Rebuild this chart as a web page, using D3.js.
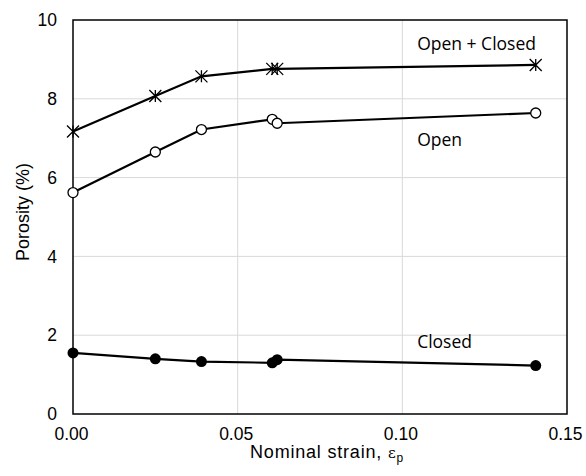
<!DOCTYPE html>
<html><head><meta charset="utf-8">
<script src="https://cdn.jsdelivr.net/npm/d3@7"></script>
<style>body{margin:0;background:#fff}svg{display:block}</style>
</head><body>
<script>
const strain = [0, 0.025, 0.039, 0.0605, 0.062, 0.1405];
const openClosed = [7.17, 8.07, 8.57, 8.76, 8.76, 8.86];
const openPor = [5.62, 6.65, 7.22, 7.48, 7.38, 7.64];
const closedPor = [1.55, 1.40, 1.33, 1.30, 1.38, 1.23];
const xTicks = [0, 0.05, 0.10, 0.15];
const yTicks = [0, 2, 4, 6, 8, 10];
const seriesLabels = ["Open + Closed", "Open", "Closed"];

const W = 586, H = 476;
const m = {l: 73, r: 19, t: 20, b: 62};
const svg = d3.select("body").append("svg").attr("width", W).attr("height", H);
const x = d3.scaleLinear().domain([0, 0.15]).range([m.l, W - m.r]);
const y = d3.scaleLinear().domain([0, 10]).range([H - m.b, m.t]);

// grid
svg.append("g").selectAll("line").data(yTicks.slice(1, -1)).join("line")
  .attr("x1", m.l).attr("x2", W - m.r).attr("y1", d => y(d)).attr("y2", d => y(d))
  .attr("stroke", "#d9d9d9").attr("stroke-width", 1);
svg.append("g").selectAll("line").data(xTicks.slice(1, -1)).join("line")
  .attr("y1", m.t).attr("y2", H - m.b).attr("x1", d => x(d)).attr("x2", d => x(d))
  .attr("stroke", "#d9d9d9").attr("stroke-width", 1);

// axes
const xa = svg.append("g").attr("transform", `translate(0,${H - m.b})`)
  .call(d3.axisBottom(x).tickValues(xTicks).tickFormat(d3.format(".2f")).tickSize(0).tickPadding(14));
const ya = svg.append("g").attr("transform", `translate(${m.l},0)`)
  .call(d3.axisLeft(y).tickValues(yTicks).tickFormat(d3.format("d")).tickSize(0).tickPadding(16));
[xa, ya].forEach(a => { a.select(".domain").remove();
  a.selectAll("text").attr("font-family", "Liberation Sans, Arial, sans-serif").attr("font-size", 17.5).attr("fill", "#000"); });
xa.selectAll("text").attr("dx", -2);

// frame
svg.append("rect").attr("x", m.l).attr("y", m.t).attr("width", W - m.r - m.l).attr("height", H - m.b - m.t)
  .attr("fill", "none").attr("stroke", "#000").attr("stroke-width", 1.5);

const line = d3.line().x(d => x(d[0])).y(d => y(d[1]));
const mk = vals => strain.map((s, i) => [s, vals[i]]);

[openClosed, openPor, closedPor].forEach(v => {
  svg.append("path").datum(mk(v)).attr("d", line).attr("fill", "none").attr("stroke", "#000").attr("stroke-width", 2.2);
});

// star markers
const st = svg.append("g");
mk(openClosed).forEach(p => {
  const cx = x(p[0]), cy = y(p[1]), r = 6;
  st.append("path").attr("d", `M${cx - r},${cy - r}L${cx + r},${cy + r}M${cx - r},${cy + r}L${cx + r},${cy - r}M${cx},${cy - r}L${cx},${cy + r}`)
    .attr("stroke", "#000").attr("stroke-width", 1.3);
});
svg.append("g").selectAll("circle").data(mk(openPor)).join("circle")
  .attr("cx", d => x(d[0])).attr("cy", d => y(d[1])).attr("r", 5)
  .attr("fill", "#fff").attr("stroke", "#000").attr("stroke-width", 1.3);
svg.append("g").selectAll("circle").data(mk(closedPor)).join("circle")
  .attr("cx", d => x(d[0])).attr("cy", d => y(d[1])).attr("r", 5.5)
  .attr("fill", "#000");

// series labels
const lab = [[seriesLabels[0], 9.25], [seriesLabels[1], 6.8], [seriesLabels[2], 1.68]];
svg.append("g").selectAll("text").data(lab).join("text")
  .attr("x", x(0.1045)).attr("y", d => y(d[1])).text(d => d[0])
  .attr("font-family", "Open Sans, sans-serif").attr("font-size", 17.5).attr("fill", "#000");

// axis titles
const xt = svg.append("text").attr("x", 327).attr("y", 458).attr("text-anchor", "middle")
  .attr("font-family", "Liberation Sans, Arial, sans-serif").attr("font-size", 18).attr("letter-spacing", 0.8);
xt.append("tspan").text("Nominal strain, ");
xt.append("tspan").text("ε").attr("font-family", "DejaVu Serif, serif").attr("font-size", 15);
xt.append("tspan").text("p").attr("font-size", 12).attr("dy", 4);

svg.append("text").attr("transform", `translate(29,${212}) rotate(-90)`).attr("text-anchor", "middle")
  .attr("font-family", "Liberation Sans, Arial, sans-serif").attr("font-size", 18).text("Porosity (%)");
</script>
</body></html>
